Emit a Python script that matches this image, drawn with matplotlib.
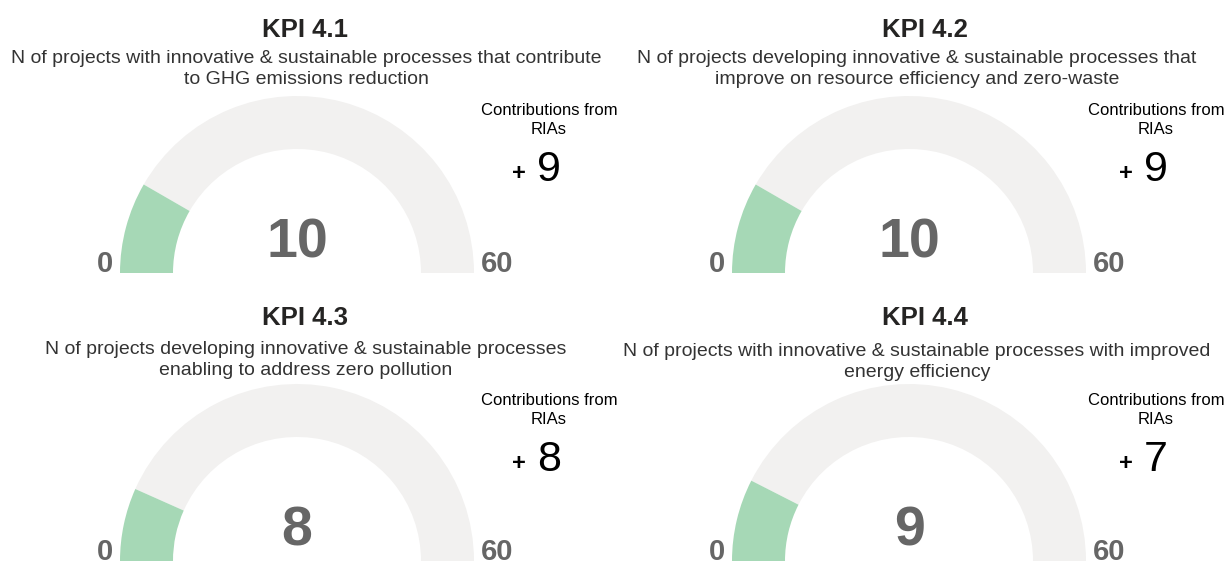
import matplotlib.pyplot as plt
from matplotlib.patches import Wedge

plt.rcParams["font.family"] = ["Liberation Sans", "DejaVu Sans"]

# data
kpi_titles = ["KPI 4.1", "KPI 4.2", "KPI 4.3", "KPI 4.4"]
kpi_subtitles = [
    "N of projects with innovative & sustainable processes that contribute\nto GHG emissions reduction",
    "N of projects developing innovative & sustainable processes that\nimprove on resource efficiency and zero-waste",
    "N of projects developing innovative & sustainable processes\nenabling to address zero pollution",
    "N of projects with innovative & sustainable processes with improved\nenergy efficiency",
]
kpi_values = [10, 10, 8, 9]
gauge_min = [0, 0, 0, 0]
gauge_max = [60, 60, 60, 60]
ria_contrib = [9, 9, 8, 7]

COLOR_FILL = "#a6d8b6"
COLOR_TRACK = "#f2f1f0"
COLOR_VALUE = "#666666"
COLOR_TITLE = "#252423"
COLOR_SUB = "#333333"

W, H = 1226, 565
fig = plt.figure(figsize=(W / 100, H / 100), dpi=100)
ax = fig.add_axes([0, 0, 1, 1])
ax.set_xlim(0, W)
ax.set_ylim(0, H)
ax.axis("off")

# panel layout (pixels, y measured from top)
gauge_cx = [297, 909, 297, 909]
gauge_cy = [273, 273, 561, 561]
title_x = [305, 925, 305, 925]
title_y = [30, 30, 318, 318]
sub_x = [306, 917, 306, 917]
sub_y = [69, 69, 360, 362]
contrib_x = [549, 1156, 549, 1156]
contrib_y = [120, 120, 410, 410]
R_OUT, R_IN = 177, 124


def fy(y):
    return H - y


for i in range(4):
    cx, cy = gauge_cx[i], fy(gauge_cy[i])
    frac = (kpi_values[i] - gauge_min[i]) / (gauge_max[i] - gauge_min[i])
    split = 180 - 180 * frac
    ax.add_patch(Wedge((cx, cy), R_OUT, 0, split, width=R_OUT - R_IN,
                       facecolor=COLOR_TRACK, edgecolor="none"))
    ax.add_patch(Wedge((cx, cy), R_OUT, split, 180, width=R_OUT - R_IN,
                       facecolor=COLOR_FILL, edgecolor="none"))

    ax.text(cx, cy + 30, f"{kpi_values[i]}", ha="center", va="center",
            fontsize=40, fontweight="bold", color=COLOR_VALUE)
    ax.text(cx - R_OUT - 7, cy + 1, f"{gauge_min[i]}", ha="right", va="baseline",
            fontsize=21, fontweight="bold", color=COLOR_VALUE)
    ax.text(cx + R_OUT + 7, cy + 1, f"{gauge_max[i]}", ha="left", va="baseline",
            fontsize=21, fontweight="bold", color=COLOR_VALUE)

    ax.text(title_x[i], fy(title_y[i]), kpi_titles[i], ha="center", va="center",
            fontsize=18.5, fontweight="bold", color=COLOR_TITLE)
    ax.text(sub_x[i], fy(sub_y[i]), kpi_subtitles[i], ha="center", va="center",
            fontsize=14, color=COLOR_SUB, linespacing=1.3)

    ax.text(contrib_x[i], fy(contrib_y[i]), "Contributions from\nRIAs",
            ha="center", va="center", fontsize=12, color="#000000",
            linespacing=1.35)
    ax.text(contrib_x[i] - 12, fy(contrib_y[i] + 50), f"{ria_contrib[i]}",
            ha="left", va="center", fontsize=31, color="#000000")
    ax.text(contrib_x[i] - 30, fy(contrib_y[i] + 53), "+", ha="center",
            va="center", fontsize=17, fontweight="bold", color="#000000")

fig.savefig("out.png", dpi=100, facecolor="white")
